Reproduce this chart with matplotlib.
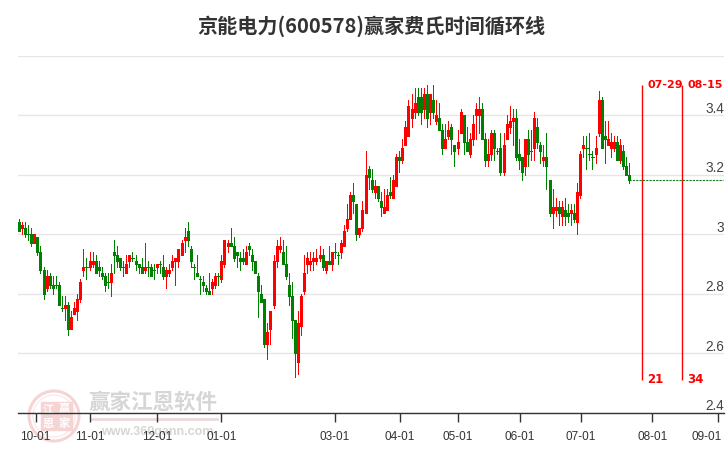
import matplotlib
matplotlib.use('Agg')
import matplotlib.pyplot as plt
from matplotlib.patches import Circle, Rectangle
from matplotlib.transforms import ScaledTranslation
import numpy as np

plt.rcParams['font.family'] = ['Liberation Sans', 'Noto Sans CJK SC', 'DejaVu Sans']

title = '京能电力(600578)赢家费氏时间循环线'

opens = [3.04, 3.02, 3.02, 3.00, 3.00, 2.97, 2.99, 2.94, 2.88, 2.82,
         2.86, 2.83, 2.83, 2.83, 2.75, 2.75, 2.76, 2.68, 2.73, 2.74,
         2.78, 2.88, 2.89, 2.89, 2.90, 2.91, 2.89, 2.87, 2.86, 2.84,
         2.84, 2.94, 2.93, 2.92, 2.89, 2.87, 2.91, 2.92, 2.91, 2.90,
         2.89, 2.88, 2.89, 2.89, 2.88, 2.89, 2.90, 2.89, 2.86, 2.87,
         2.89, 2.91, 2.91, 2.93, 2.98, 3.01, 2.95, 2.89, 2.87, 2.85,
         2.84, 2.82, 2.81, 2.82, 2.83, 2.86, 2.85, 2.90, 2.96, 2.97,
         2.96, 2.94, 2.92, 2.92, 2.90, 2.96, 2.93, 2.91, 2.86, 2.80,
         2.78, 2.63, 2.68, 2.76, 2.91, 2.95, 2.94, 2.90, 2.83, 2.79,
         2.71, 2.57, 2.69, 2.81, 2.90, 2.90, 2.91, 2.91, 2.92, 2.93,
         2.88, 2.91, 2.90, 2.94, 2.93, 2.94, 2.96, 3.02, 3.05, 3.13,
         3.10, 3.00, 3.02, 3.07, 3.22, 3.18, 3.14, 3.16, 3.11, 3.07,
         3.08, 3.14, 3.12, 3.16, 3.26, 3.25, 3.30, 3.33, 3.39, 3.41,
         3.46, 3.46, 3.42, 3.47, 3.41, 3.45, 3.38, 3.39, 3.35, 3.29,
         3.33, 3.36, 3.30, 3.29, 3.34, 3.40, 3.31, 3.27, 3.32, 3.40,
         3.40, 3.42, 3.32, 3.25, 3.27, 3.34, 3.28, 3.29, 3.21, 3.32,
         3.36, 3.38, 3.39, 3.27, 3.26, 3.23, 3.32, 3.28, 3.29, 3.36,
         3.30, 3.25, 3.26, 3.18, 3.07, 3.08, 3.09, 3.06, 3.08, 3.07,
         3.07, 3.07, 3.04, 3.13, 3.29, 3.29, 3.27, 3.26, 3.27, 3.34,
         3.45, 3.33, 3.30, 3.29, 3.29, 3.31, 3.25, 3.28, 3.23, 3.20]
closes = [3.01, 3.03, 3.00, 3.00, 2.97, 3.00, 2.94, 2.88, 2.80, 2.86,
          2.83, 2.82, 2.83, 2.76, 2.75, 2.76, 2.68, 2.72, 2.75, 2.78,
          2.84, 2.89, 2.89, 2.91, 2.91, 2.87, 2.88, 2.86, 2.83, 2.84,
          2.87, 2.93, 2.91, 2.89, 2.89, 2.90, 2.93, 2.92, 2.90, 2.89,
          2.87, 2.89, 2.89, 2.86, 2.88, 2.90, 2.90, 2.86, 2.88, 2.88,
          2.91, 2.92, 2.95, 2.97, 2.99, 2.98, 2.91, 2.89, 2.86, 2.85,
          2.83, 2.81, 2.80, 2.84, 2.86, 2.86, 2.91, 2.98, 2.97, 2.96,
          2.92, 2.93, 2.91, 2.91, 2.94, 2.95, 2.91, 2.87, 2.81, 2.77,
          2.63, 2.67, 2.74, 2.91, 2.96, 2.96, 2.90, 2.86, 2.79, 2.71,
          2.60, 2.70, 2.79, 2.87, 2.92, 2.91, 2.92, 2.92, 2.93, 2.89,
          2.91, 2.90, 2.94, 2.94, 2.93, 2.97, 3.01, 3.05, 3.13, 3.11,
          3.00, 3.02, 3.08, 3.20, 3.19, 3.15, 3.16, 3.12, 3.09, 3.09,
          3.13, 3.13, 3.18, 3.26, 3.25, 3.29, 3.36, 3.43, 3.42, 3.44,
          3.41, 3.41, 3.47, 3.39, 3.47, 3.41, 3.40, 3.35, 3.29, 3.32,
          3.35, 3.32, 3.28, 3.31, 3.41, 3.31, 3.28, 3.32, 3.37, 3.42,
          3.42, 3.32, 3.25, 3.27, 3.34, 3.29, 3.28, 3.21, 3.30, 3.37,
          3.38, 3.39, 3.26, 3.25, 3.21, 3.32, 3.27, 3.28, 3.39, 3.31,
          3.28, 3.26, 3.23, 3.07, 3.09, 3.09, 3.07, 3.09, 3.06, 3.06,
          3.08, 3.05, 3.14, 3.27, 3.30, 3.29, 3.27, 3.26, 3.29, 3.45,
          3.29, 3.32, 3.32, 3.31, 3.31, 3.25, 3.30, 3.23, 3.20, 3.18]
highs = [3.05, 3.04, 3.04, 3.03, 3.02, 3.00, 2.99, 2.96, 2.89, 2.88,
         2.87, 2.86, 2.86, 2.84, 2.79, 2.79, 2.77, 2.74, 2.77, 2.80,
         2.85, 2.95, 2.92, 2.94, 2.94, 2.93, 2.91, 2.89, 2.87, 2.87,
         2.90, 2.98, 2.96, 2.92, 2.91, 2.93, 2.93, 2.94, 2.93, 2.90,
         2.92, 2.97, 2.91, 2.90, 2.90, 2.90, 2.91, 2.93, 2.89, 2.90,
         2.93, 2.92, 2.95, 2.98, 3.02, 3.04, 2.96, 2.90, 2.93, 2.86,
         2.86, 2.83, 2.87, 2.85, 2.87, 2.87, 2.93, 2.98, 2.98, 3.02,
         2.99, 2.94, 2.94, 2.95, 2.96, 2.97, 2.95, 2.91, 2.87, 2.83,
         2.78, 2.70, 2.74, 2.93, 2.98, 2.99, 2.98, 2.96, 2.87, 2.84,
         2.71, 2.74, 2.80, 2.93, 2.94, 2.94, 2.94, 2.95, 2.96, 2.95,
         2.91, 2.96, 2.94, 2.97, 2.94, 2.98, 3.03, 3.10, 3.14, 3.17,
         3.10, 3.02, 3.11, 3.28, 3.23, 3.22, 3.18, 3.16, 3.14, 3.15,
         3.15, 3.19, 3.20, 3.27, 3.28, 3.32, 3.38, 3.45, 3.47, 3.49,
         3.49, 3.49, 3.49, 3.50, 3.47, 3.50, 3.45, 3.44, 3.37, 3.37,
         3.38, 3.37, 3.30, 3.35, 3.42, 3.40, 3.36, 3.34, 3.40, 3.44,
         3.46, 3.44, 3.34, 3.32, 3.35, 3.35, 3.29, 3.34, 3.34, 3.40,
         3.43, 3.42, 3.42, 3.32, 3.26, 3.32, 3.35, 3.35, 3.41, 3.39,
         3.31, 3.30, 3.34, 3.18, 3.15, 3.12, 3.11, 3.11, 3.12, 3.10,
         3.10, 3.10, 3.17, 3.28, 3.33, 3.33, 3.34, 3.28, 3.33, 3.48,
         3.46, 3.38, 3.38, 3.34, 3.33, 3.33, 3.32, 3.30, 3.26, 3.24]
lows = [3.01, 3.00, 2.99, 2.98, 2.96, 2.97, 2.93, 2.87, 2.78, 2.81,
        2.82, 2.80, 2.82, 2.76, 2.74, 2.71, 2.66, 2.68, 2.73, 2.71,
        2.77, 2.86, 2.85, 2.88, 2.89, 2.87, 2.86, 2.85, 2.81, 2.82,
        2.79, 2.87, 2.89, 2.88, 2.86, 2.87, 2.89, 2.91, 2.88, 2.87,
        2.87, 2.87, 2.86, 2.86, 2.85, 2.87, 2.87, 2.85, 2.82, 2.86,
        2.88, 2.83, 2.89, 2.93, 2.94, 2.96, 2.89, 2.85, 2.86, 2.80,
        2.81, 2.80, 2.80, 2.80, 2.82, 2.83, 2.84, 2.89, 2.94, 2.96,
        2.91, 2.89, 2.88, 2.90, 2.90, 2.93, 2.88, 2.87, 2.72, 2.77,
        2.62, 2.58, 2.63, 2.75, 2.89, 2.94, 2.90, 2.85, 2.76, 2.65,
        2.52, 2.53, 2.66, 2.80, 2.87, 2.88, 2.88, 2.90, 2.91, 2.88,
        2.87, 2.90, 2.88, 2.92, 2.90, 2.92, 2.96, 3.01, 3.05, 3.07,
        2.98, 2.99, 3.01, 3.07, 3.15, 3.14, 3.12, 3.11, 3.06, 3.07,
        3.08, 3.12, 3.12, 3.16, 3.21, 3.24, 3.30, 3.33, 3.36, 3.39,
        3.40, 3.37, 3.39, 3.36, 3.37, 3.39, 3.37, 3.35, 3.27, 3.29,
        3.32, 3.27, 3.23, 3.27, 3.34, 3.27, 3.28, 3.26, 3.30, 3.32,
        3.34, 3.32, 3.23, 3.23, 3.25, 3.25, 3.27, 3.20, 3.20, 3.32,
        3.34, 3.30, 3.25, 3.22, 3.18, 3.20, 3.23, 3.25, 3.25, 3.29,
        3.24, 3.23, 3.15, 3.06, 3.02, 3.06, 3.03, 3.03, 3.03, 3.04,
        3.03, 3.04, 3.00, 3.12, 3.26, 3.22, 3.25, 3.22, 3.24, 3.33,
        3.29, 3.24, 3.30, 3.26, 3.28, 3.25, 3.24, 3.22, 3.20, 3.17]

date_ticks = [5.4, 23.2, 45.1, 66.0, 103.0, 124.2, 143.1, 163.4, 183.2, 206.5, 228.1]
date_labels = ['10-01', '11-01', '12-01', '01-01', '03-01', '04-01',
               '05-01', '06-01', '07-01', '08-01', '09-01']
price_ticks = [3.6, 3.4, 3.2, 3.0, 2.8, 2.6, 2.4]
price_labels = ['', '3.4', '3.2', '3', '2.8', '2.6', '2.4']

cycle_x = [203.2, 216.3]
cycle_dates = ['07-29', '08-15']
cycle_days = ['21', '34']

W, H = 726, 450
fig = plt.figure(figsize=(W / 100, H / 100), dpi=100)
ax = fig.add_axes([18 / W, 1 - 412.5 / H, 706 / W, 357 / H])
ax.set_xlim(-0.33, 229.9)
ax.set_ylim(2.4, 3.6)
ax.patch.set_alpha(0)

# watermark, drawn in figure pixels
pink = '#f6d4d4'
bg = fig.add_axes([0, 0, 1, 1], zorder=-1)
bg.set_xlim(0, W)
bg.set_ylim(H, 0)
bg.axis('off')
bg.add_patch(Circle((54, 416), 25, fill=False, ec=pink, lw=2.2))
bg.add_patch(Circle((54, 416), 21, fill=False, ec='#fbeaea', lw=1))
for i, ch in enumerate(['江', '赢', '恩', '家']):
    sx = 40.5 + (i % 2) * 16.5
    sy = 402 + (i // 2) * 14.5
    bg.add_patch(Rectangle((sx, sy), 15, 13.5, color=pink))
    bg.text(sx + 7.5, sy + 6.5, ch, color='white', fontsize=8, ha='center', va='center',
            family=['Noto Sans CJK SC'], weight='bold')
bg.text(88, 402, '赢家江恩软件', color='#d6d6d6', fontsize=15.5, ha='left', va='center',
        family=['Noto Sans CJK SC'], weight='bold')
bg.plot([91, 217], [419, 419], color='#eadada', lw=2)
bg.text(101, 432, 'www.360gann.com', color='#d6d6d6', fontsize=9, ha='left', va='center',
        family=['Liberation Sans'], weight='bold')

# grid and axis
ax.set_yticks(price_ticks)
ax.set_yticklabels([])
ax.tick_params(axis='y', length=0)
ax.grid(axis='y', color='#e6e6e6', lw=1)
ax.set_axisbelow(True)
for side in ['top', 'left', 'right']:
    ax.spines[side].set_visible(False)
ax.spines['bottom'].set_color('#333333')
ax.spines['bottom'].set_linewidth(1)
ax.set_xticks(date_ticks)
ax.set_xticklabels(date_labels, fontsize=8.5, color='#333333')
ax.tick_params(axis='x', length=6.5, width=1, color='#333333', pad=6.5)

# last label is pushed left so it stays inside the picture
last = ax.get_xticklabels()[-1]
last.set_ha('right')
last.set_transform(last.get_transform() + ScaledTranslation(3.5 / 100, 0, fig.dpi_scale_trans))

for v, lab in zip(price_ticks, price_labels):
    ax.annotate(lab, (1, v), xycoords=('axes fraction', 'data'), xytext=(0, -1),
                textcoords='offset pixels', ha='right', va='bottom',
                fontsize=9.8, color='#444444')

# candles
days = np.arange(len(opens))
o = np.array(opens)
c = np.array(closes)
colors = np.where(c > o, '#ff0000', '#008000')
ax.vlines(days, lows, highs, colors=colors, lw=0.72, antialiased=False, zorder=3)
solid = o != c
ax.vlines(days[solid], np.minimum(o, c)[solid], np.maximum(o, c)[solid], colors=colors[solid],
          lw=2.16, capstyle='butt', antialiased=False, zorder=4)
ax.hlines(o[~solid], days[~solid] - 0.45, days[~solid] + 0.45, colors=colors[~solid],
          lw=0.72, antialiased=False, zorder=4)

# last close carried forward
ax.plot([days[-1], 229.6], [closes[-1], closes[-1]], color='#1a7a1a', lw=0.8, ls=(0, (2, 1)), zorder=3)

# time cycle lines
cycle_top = 3.5
cycle_bottom = 2.51
ax.vlines(cycle_x, cycle_bottom, cycle_top, colors='#ff0000', lw=1, zorder=5)
for x, d, n in zip(cycle_x, cycle_dates, cycle_days):
    ax.annotate(d, (x, cycle_top), xytext=(5, 0), textcoords='offset pixels', ha='left', va='center',
                fontsize=8, color='#ff0000', weight='bold', family=['DejaVu Sans'])
    ax.annotate(n, (x, cycle_bottom), xytext=(5, 0), textcoords='offset pixels', ha='left', va='center',
                fontsize=8.5, color='#ff0000', weight='bold', family=['DejaVu Sans'])

fig.text(371 / W, 1 - 26 / H, title, fontsize=14.5, color='#333333', ha='center', va='center',
         weight='bold', family=['Noto Sans CJK SC'])

fig.savefig('out.png', dpi=100, facecolor='white')
